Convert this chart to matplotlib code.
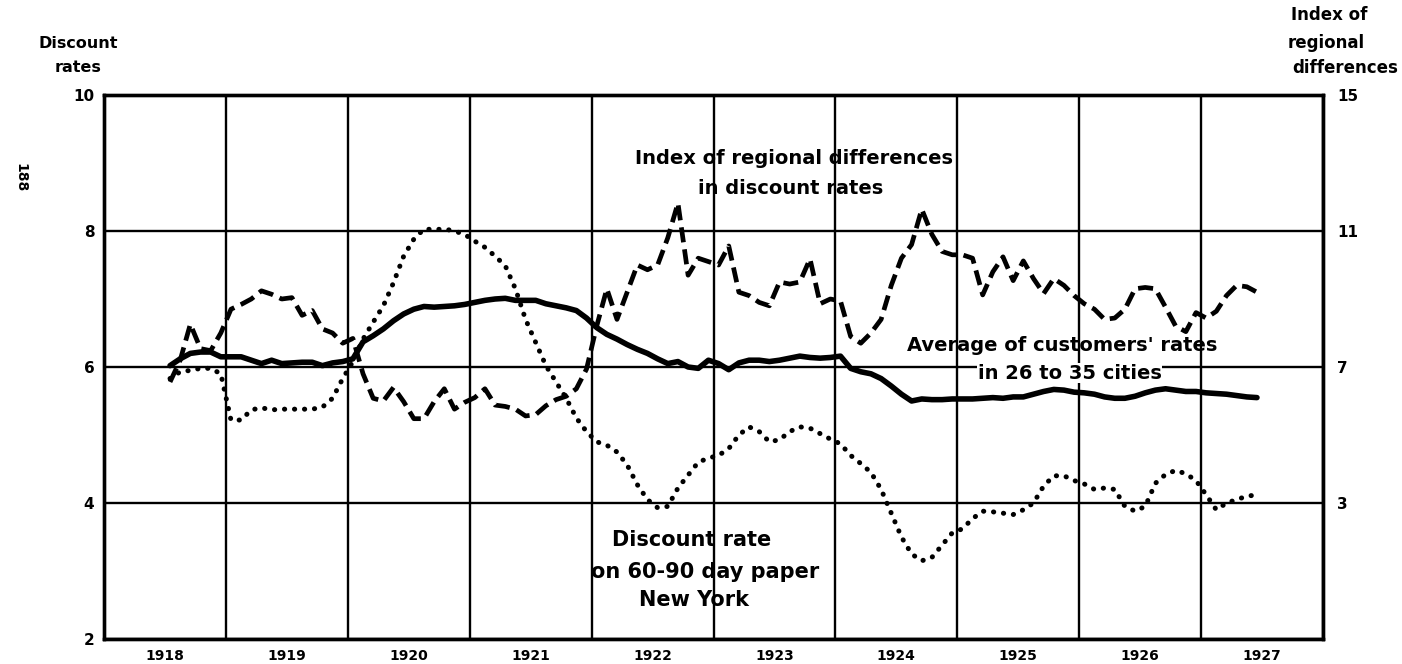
import matplotlib as mpl
mpl.use('Agg')
import matplotlib.pyplot as plt
import numpy as np
import pandas as pd

plt.rc('font', family='DejaVu Sans', weight='bold')

# monthly, July 1918 .. June 1927
months = pd.period_range('1918-07', '1927-06', freq='M')

# Average of customers' rates in 26 to 35 cities (left scale, per cent)
customers = [
    6.02, 6.12, 6.20, 6.22, 6.22, 6.15, 6.15, 6.15, 6.10, 6.05, 6.10, 6.05,
    6.06, 6.07, 6.07, 6.02, 6.06, 6.08, 6.12, 6.37, 6.46, 6.56, 6.68, 6.78,
    6.85, 6.89, 6.88, 6.89, 6.90, 6.92, 6.95, 6.98, 7.00, 7.01, 6.98, 6.98,
    6.98, 6.93, 6.90, 6.87, 6.83, 6.72, 6.58, 6.48, 6.41, 6.33, 6.26, 6.20,
    6.12, 6.05, 6.08, 6.00, 5.98, 6.10, 6.05, 5.96, 6.06, 6.10, 6.10, 6.08,
    6.10, 6.13, 6.16, 6.14, 6.13, 6.14, 6.16, 5.98, 5.93, 5.90, 5.83, 5.72,
    5.60, 5.50, 5.53, 5.52, 5.52, 5.53, 5.53, 5.53, 5.54, 5.55, 5.54, 5.56,
    5.56, 5.60, 5.64, 5.67, 5.66, 5.63, 5.62, 5.60, 5.56, 5.54, 5.54, 5.57,
    5.62, 5.66, 5.68, 5.66, 5.64, 5.64, 5.62, 5.61, 5.60, 5.58, 5.56, 5.55,
]

# Discount rate on 60-90 day paper, New York (left scale)
new_york = [
    5.83, 5.93, 5.95, 5.98, 5.98, 5.90, 5.22, 5.22, 5.37, 5.40, 5.37, 5.38,
    5.38, 5.38, 5.38, 5.41, 5.54, 5.83, 6.08, 6.41, 6.66, 6.90, 7.24, 7.63,
    7.88, 8.03, 8.02, 8.03, 8.00, 7.95, 7.85, 7.76, 7.63, 7.49, 7.15, 6.70,
    6.36, 6.02, 5.78, 5.54, 5.25, 5.05, 4.90, 4.85, 4.75, 4.56, 4.27, 4.05,
    3.93, 3.95, 4.22, 4.41, 4.60, 4.66, 4.70, 4.80, 5.00, 5.12, 5.05, 4.90,
    4.93, 5.05, 5.12, 5.10, 5.02, 4.94, 4.87, 4.70, 4.58, 4.45, 4.20, 3.85,
    3.50, 3.25, 3.15, 3.20, 3.38, 3.56, 3.62, 3.77, 3.88, 3.87, 3.85, 3.83,
    3.90, 4.00, 4.25, 4.40, 4.40, 4.33, 4.28, 4.20, 4.22, 4.20, 3.95, 3.88,
    3.95, 4.29, 4.42, 4.48, 4.43, 4.33, 4.12, 3.90, 4.00, 4.05, 4.10, 4.12,
]

# Index of regional differences in discount rates (right scale)
regional_index = [
    6.56, 7.20, 8.26, 7.54, 7.48, 8.00, 8.70, 8.84, 9.00, 9.24, 9.14, 9.00,
    9.04, 8.52, 8.66, 8.12, 8.00, 7.70, 7.84, 6.80, 6.08, 6.00, 6.40, 5.98,
    5.48, 5.48, 5.98, 6.36, 5.76, 5.96, 6.10, 6.36, 5.88, 5.84, 5.76, 5.56,
    5.60, 5.86, 6.04, 6.14, 6.36, 6.94, 8.20, 9.30, 8.40, 9.20, 10.00, 9.86,
    10.00, 10.80, 11.82, 9.70, 10.20, 10.10, 10.00, 10.56, 9.20, 9.10, 8.90, 8.80,
    9.50, 9.44, 9.50, 10.18, 8.86, 9.00, 8.94, 7.90, 7.70, 8.00, 8.40, 9.40,
    10.20, 10.60, 11.64, 10.90, 10.40, 10.30, 10.30, 10.20, 9.12, 9.80, 10.24, 9.54,
    10.12, 9.60, 9.16, 9.60, 9.40, 9.10, 8.86, 8.70, 8.40, 8.44, 8.70, 9.30,
    9.34, 9.30, 8.76, 8.20, 8.04, 8.60, 8.44, 8.64, 9.10, 9.40, 9.36, 9.20,
]

years = list(range(1918, 1929))
year_labels = [str(y) for y in range(1918, 1928)]
left_ticks = [2, 4, 6, 8, 10]
right_ticks = [3, 7, 11, 15]


def month_x(periods):
    # middle of each month, in decimal years
    return np.array([p.year + (p.month - 0.5) / 12.0 for p in periods])


def main():
    W, H = 1402, 664
    fig = plt.figure(figsize=(W / 100.0, H / 100.0), dpi=100)
    ax = fig.add_axes([104.0 / W, 25.0 / H, 1219.0 / W, 544.0 / H])
    ax2 = ax.twinx()

    x = month_x(months)

    ax.plot(x, customers, color='black', lw=4.0, solid_capstyle='round',
            solid_joinstyle='round', zorder=4)
    ax.plot(x, new_york, color='black', lw=3.6, ls=(0, (0.05, 1.95)),
            dash_capstyle='round', zorder=4)
    ax2.plot(x, regional_index, color='black', lw=3.4, ls=(0, (3.2, 1.5)),
             dash_capstyle='butt', zorder=4)

    ax.set_xlim(1918, 1928)
    ax.set_ylim(2, 10)
    ax2.set_ylim(-1, 15)

    ax.set_xticks(years)
    ax.set_xticklabels([''] * len(years))
    ax.set_xticks([y + 0.5 for y in range(1918, 1928)], minor=True)
    ax.set_xticklabels(year_labels, minor=True, fontsize=10, fontweight='bold')
    ax.tick_params(axis='x', which='both', length=0, pad=7)

    ax.set_yticks(left_ticks)
    ax.set_yticklabels([str(v) for v in left_ticks], fontsize=11, fontweight='bold')
    ax.tick_params(axis='y', length=0, pad=7)
    ax2.set_yticks(right_ticks)
    ax2.set_yticklabels([str(v) for v in right_ticks], fontsize=11, fontweight='bold')
    ax2.tick_params(axis='y', length=0, pad=10)

    ax.set_axisbelow(True)
    ax.grid(True, which='major', color='black', lw=1.7)
    for a in (ax, ax2):
        for s in a.spines.values():
            s.set_linewidth(2.4)

    # axis headings
    def ftext(px, py, s, **kw):
        fig.text(px / W, 1 - py / H, s, va='center', fontweight='bold', **kw)

    ftext(78, 43, 'Discount', ha='center', fontsize=11.5)
    ftext(78, 68, 'rates', ha='center', fontsize=11.5)
    ftext(1291, 15, 'Index of', ha='left', fontsize=12)
    ftext(1288, 43, 'regional', ha='left', fontsize=12)
    ftext(1292, 68, 'differences', ha='left', fontsize=12)
    ftext(20, 178, '188', ha='center', fontsize=10, rotation=270)

    # curve labels
    lab = dict(ha='center', va='center', fontweight='bold', zorder=3)
    ax.text(1923.66, 9.07, 'Index of regional differences', fontsize=14, **lab)
    ax.text(1923.63, 8.63, 'in discount rates', fontsize=14, **lab)
    ax.text(1925.86, 6.32, "Average of customers' rates", fontsize=14, **lab)
    ax.text(1925.92, 5.91, 'in 26 to 35 cities', fontsize=14,
            bbox=dict(facecolor='white', edgecolor='none', pad=0.5), **lab)
    ax.text(1922.82, 3.46, 'Discount rate', fontsize=15, **lab)
    ax.text(1922.93, 2.99, 'on 60-90 day paper', fontsize=15, **lab)
    ax.text(1922.84, 2.57, 'New York', fontsize=15, **lab)

    fig.savefig('out.png', dpi=100, facecolor='white')


if __name__ == '__main__':
    main()
